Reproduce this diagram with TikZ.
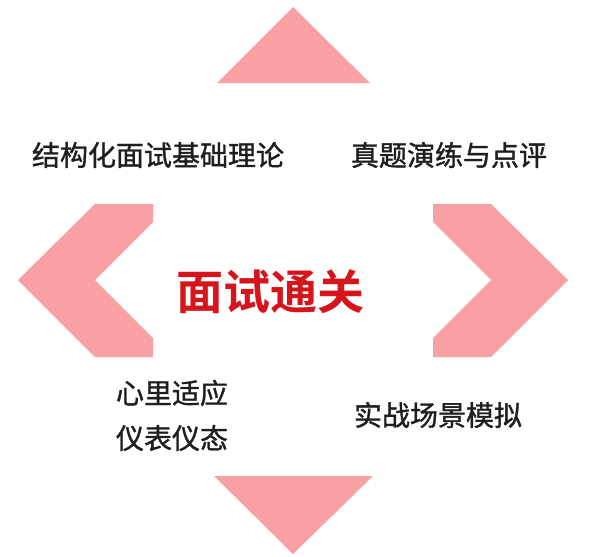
\documentclass[tikz,border=0pt]{standalone}
\usepackage{fontspec}
\setmainfont{Noto Sans CJK SC}
\newfontfamily\cjkmedium[FakeBold=1.2]{Noto Sans CJK SC}
\newfontfamily\cjkbold{Noto Sans CJK SC Bold}
\definecolor{shapepink}{RGB}{248,160,164}
\definecolor{titlered}{RGB}{214,20,28}
\definecolor{bodytext}{RGB}{30,30,30}
\tikzset{
  shapefill/.style={fill=shapepink, draw=none},
  bodylabel/.style={inner sep=0pt, text=bodytext, font=\cjkmedium\fontsize{28}{33}\selectfont},
  titlelabel/.style={inner sep=0pt, text=titlered, font=\cjkbold\fontsize{47}{56}\selectfont}
}
\begin{document}
\begin{tikzpicture}[x=1pt,y=-1pt]
\useasboundingbox (0,0) rectangle (600,557);
\fill[white] (0,0) rectangle (600,557);
% top triangle
\path[shapefill] (293,7) -- (370,83) -- (217,83) -- cycle;
% bottom triangle
\path[shapefill] (214,476) -- (373,476) -- (293,554) -- cycle;
% left chevron
\path[shapefill] (95,204) -- (153,204) -- (153,222) -- (95,280) -- (153,338) -- (153,357) -- (95,357) -- (18,280) -- cycle;
% right chevron
\path[shapefill] (491,204) -- (433,204) -- (433,222) -- (491,280) -- (433,338) -- (433,357) -- (491,357) -- (568,280) -- cycle;
% texts
\node[bodylabel] (t1) at (158,155) {结构化面试基础理论};
\node[bodylabel] (t2) at (449,155) {真题演练与点评};
\node[bodylabel] (t3) at (172,393) {心里适应};
\node[bodylabel] (t4) at (172,438) {仪表仪态};
\node[bodylabel] (t5) at (438,415) {实战场景模拟};
\node[titlelabel] (title) at (270,292) {面试通关};
\end{tikzpicture}
\end{document}
